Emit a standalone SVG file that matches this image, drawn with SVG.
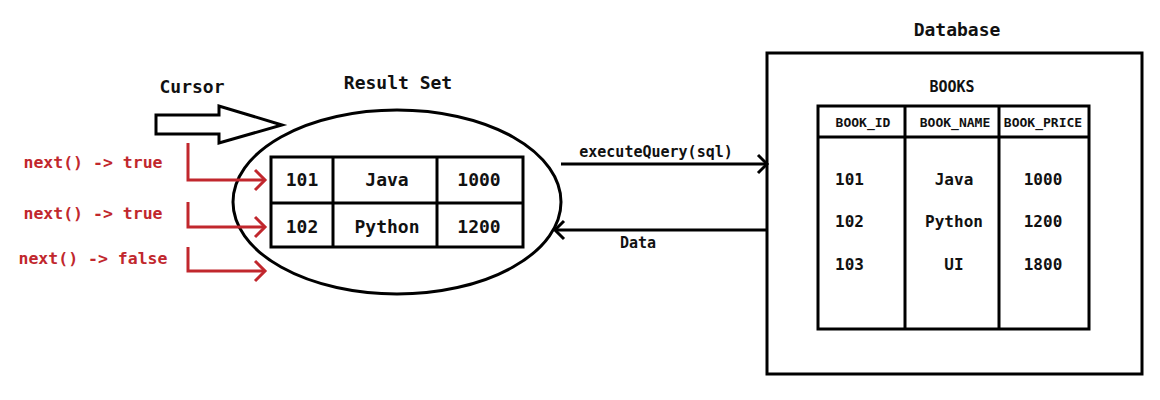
<svg xmlns="http://www.w3.org/2000/svg" width="1160" height="400" viewBox="0 0 1160 400">
<style>
text{font-family:"DejaVu Sans Mono","Liberation Mono",monospace;font-weight:bold;fill:#111}
.red{fill:#c1272d}
.blk{fill:none;stroke:#000;stroke-width:3}
.redl{fill:none;stroke:#c1272d;stroke-width:3;stroke-linejoin:miter}
.mid{text-anchor:middle}
</style>
<rect width="1160" height="400" fill="#fff"/>
<g id="cursor">
<text x="192" y="93" font-size="18" class="mid">Cursor</text>
<polygon class="blk" points="156,115 219,115 219,106 282,125 219,143 219,134 156,134"/>
</g>
<g id="resultset">
<text x="398" y="89" font-size="18" class="mid">Result Set</text>
<ellipse class="blk" cx="397" cy="202" rx="164" ry="92"/>
<rect class="blk" x="271" y="157" width="252" height="90"/>
<line class="blk" x1="271" y1="203" x2="523" y2="203"/>
<line class="blk" x1="333" y1="157" x2="333" y2="247"/>
<line class="blk" x1="437" y1="157" x2="437" y2="247"/>
<text x="302" y="186" font-size="18" class="mid">101</text>
<text x="387" y="186" font-size="18" class="mid">Java</text>
<text x="479" y="186" font-size="18" class="mid">1000</text>
<text x="302" y="233" font-size="18" class="mid">102</text>
<text x="387" y="233" font-size="18" class="mid">Python</text>
<text x="479" y="233" font-size="18" class="mid">1200</text>
</g>
<g id="next-labels">
<text x="93" y="168" font-size="16.5" class="mid red">next() -&gt; true</text>
<text x="93" y="219" font-size="16.5" class="mid red">next() -&gt; true</text>
<text x="93" y="264" font-size="16.5" class="mid red">next() -&gt; false</text>
</g>
<g id="database">
<text x="957" y="36" font-size="18" class="mid">Database</text>
<rect class="blk" x="767" y="53" width="375" height="321"/>
<text x="952" y="92" font-size="15" class="mid">BOOKS</text>
<rect class="blk" x="818" y="106" width="271" height="223"/>
<line class="blk" x1="818" y1="137" x2="1089" y2="137"/>
<line class="blk" x1="905" y1="106" x2="905" y2="329"/>
<line class="blk" x1="999" y1="106" x2="999" y2="329"/>
<text x="863" y="127" font-size="13" class="mid">BOOK_ID</text>
<text x="955" y="127" font-size="13" class="mid">BOOK_NAME</text>
<text x="1043" y="127" font-size="13" class="mid">BOOK_PRICE</text>
<text x="835" y="185" font-size="16">101</text>
<text x="835" y="227" font-size="16">102</text>
<text x="835" y="270" font-size="16">103</text>
<text x="954" y="185" font-size="16" class="mid">Java</text>
<text x="954" y="227" font-size="16" class="mid">Python</text>
<text x="954" y="270" font-size="16" class="mid">UI</text>
<text x="1043" y="185" font-size="16" class="mid">1000</text>
<text x="1043" y="227" font-size="16" class="mid">1200</text>
<text x="1043" y="270" font-size="16" class="mid">1800</text>
</g>
<g id="connectors">
<polyline class="redl" points="188,143 188,180 264,180"/>
<polyline class="redl" points="255,170 265,180 255,190"/>
<polyline class="redl" points="188,202 188,227 264,227"/>
<polyline class="redl" points="255,217 265,227 255,237"/>
<polyline class="redl" points="188,247 188,271 264,271"/>
<polyline class="redl" points="255,261 265,271 255,281"/>
<line class="blk" x1="561" y1="164" x2="766" y2="164"/>
<polyline class="blk" points="758,155 767,164 758,173"/>
<line class="blk" x1="555" y1="230" x2="766" y2="230"/>
<polyline class="blk" points="564,221 555,230 564,239"/>
<text x="656" y="157" font-size="15" class="mid">executeQuery(sql)</text>
<text x="638" y="248" font-size="15" class="mid">Data</text>
</g>
</svg>
